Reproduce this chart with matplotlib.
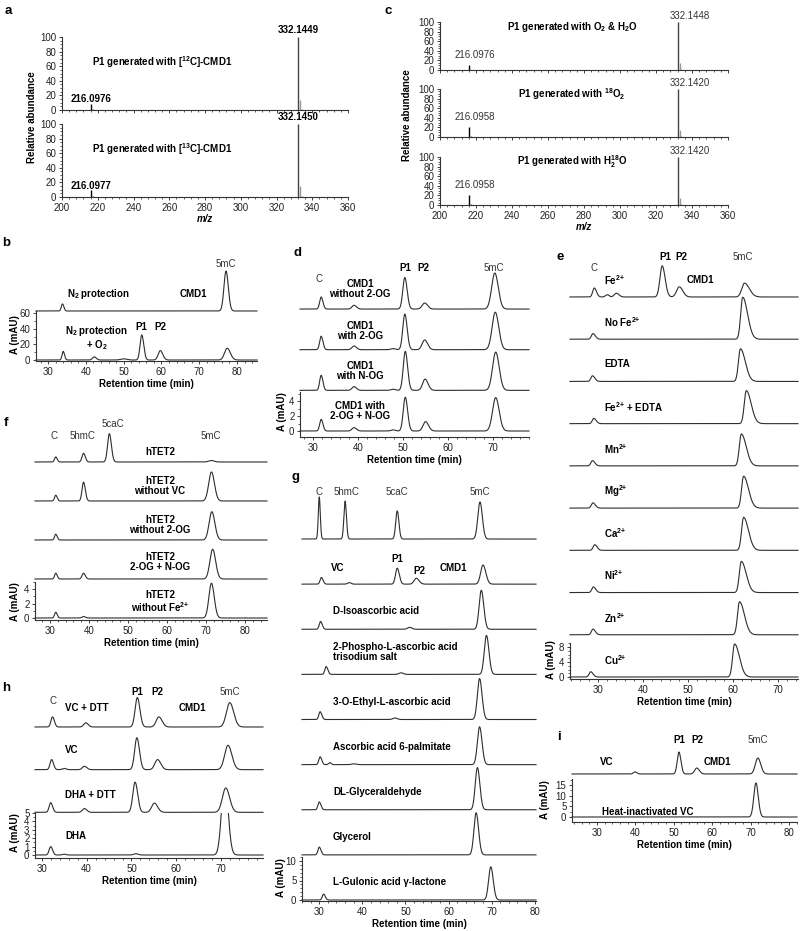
import numpy as np
import matplotlib
matplotlib.use('Agg')
import matplotlib.pyplot as plt
from matplotlib.ticker import MultipleLocator
from matplotlib.patches import Rectangle

plt.rcParams['font.family'] = 'Liberation Sans'
plt.rcParams['mathtext.fontset'] = 'custom'
plt.rcParams['mathtext.rm'] = 'Liberation Sans'
plt.rcParams['mathtext.bf'] = 'Liberation Sans:bold'
plt.rcParams['mathtext.it'] = 'Liberation Sans:italic'

# ---- mass spectra (panels a, c) ----
ms_mz = [216.1, 217.1, 332.1, 333.1, 334.1]
ms_a_12c = [8, 1, 100, 14, 1.5]
ms_a_13c = [9, 1, 100, 15, 1.5]
ms_c_o2h2o = [10, 1, 100, 15, 2]
ms_c_18o2 = [21, 2, 100, 15, 2]
ms_c_h218o = [21, 2, 100, 15, 2]
ms_a_labels = [('216.0976', '332.1449'), ('216.0977', '332.1450')]
ms_c_labels = [('216.0976', '332.1448'), ('216.0958', '332.1420'), ('216.0958', '332.1420')]
ms_a_titles = [r'P1 generated with [$^{\mathbf{12}}$C]-CMD1',
               r'P1 generated with [$^{\mathbf{13}}$C]-CMD1']
ms_c_titles = [r'P1 generated with O$_{\mathbf{2}}$ & H$_{\mathbf{2}}$O',
               r'P1 generated with $^{\mathbf{18}}$O$_{\mathbf{2}}$',
               r'P1 generated with H$_{\mathbf{2}}^{\mathbf{18}}$O']

# ---- chromatograms: peaks as (retention time, height mAU, width, tailing) ----
b_traces = [
    [(33.8, 9, 0.3, 1.2), (77.1, 51, 0.55, 1.1)],
    [(34.0, 11, 0.3, 1.2), (42.2, 4, 0.45, 1.2), (50.0, 1.5, 0.8, 1.0),
     (54.8, 32, 0.45, 1.15), (59.7, 12, 0.55, 1.2), (77.4, 15, 0.7, 1.2)],
]
d_traces = [
    [(31.8, 1.6, 0.33, 1.2), (39.1, 0.5, 0.45, 1.2), (50.4, 4.2, 0.45, 1.15),
     (54.8, 0.8, 0.55, 1.2), (70.4, 4.8, 0.7, 1.1)],
    [(31.8, 1.8, 0.33, 1.2), (39.1, 0.5, 0.45, 1.2), (47.8, 0.15, 0.5, 1.0),
     (50.4, 4.75, 0.45, 1.15), (54.8, 1.3, 0.55, 1.2), (70.5, 5.0, 0.7, 1.1)],
    [(31.8, 2.0, 0.33, 1.2), (39.1, 0.5, 0.45, 1.2), (47.8, 0.15, 0.5, 1.0),
     (50.5, 5.2, 0.45, 1.15), (54.9, 1.5, 0.55, 1.2), (70.6, 5.1, 0.7, 1.1)],
    [(31.8, 1.55, 0.33, 1.2), (39.1, 0.45, 0.45, 1.2), (47.8, 0.15, 0.5, 1.0),
     (50.5, 4.5, 0.45, 1.15), (55.0, 1.25, 0.55, 1.2), (70.6, 4.45, 0.7, 1.1)],
]
d_names = ['CMD1\nwithout 2-OG', 'CMD1\nwith 2-OG', 'CMD1\nwith N-OG', 'CMD1 with\n2-OG + N-OG']

e_traces = [
    [(29.1, 2.4, 0.35, 1.4), (32.0, 0.6, 0.4, 1.0), (34.0, 1.0, 0.45, 1.3),
     (44.2, 8.3, 0.5, 1.3), (48.0, 2.7, 0.6, 1.3), (62.5, 3.7, 0.6, 1.8)],
    [(28.8, 1.5, 0.35, 1.5), (62.1, 11.2, 0.45, 2.4)],
    [(28.7, 1.5, 0.35, 1.5), (61.6, 8.7, 0.45, 2.4)],
    [(29.0, 1.4, 0.35, 1.5), (62.9, 8.8, 0.45, 2.4)],
    [(28.7, 1.4, 0.35, 1.5), (61.8, 8.5, 0.45, 2.4)],
    [(28.8, 1.4, 0.35, 1.5), (62.3, 8.5, 0.45, 2.4)],
    [(29.2, 1.5, 0.35, 1.5), (62.3, 8.8, 0.45, 2.4)],
    [(28.9, 1.5, 0.35, 1.5), (61.8, 8.3, 0.45, 2.4)],
    [(28.8, 1.5, 0.35, 1.5), (61.4, 8.8, 0.45, 2.4)],
    [(28.3, 1.4, 0.35, 1.5), (60.3, 8.8, 0.45, 2.4)],
]
SUP = r'$^{\mathbf{2{+}}}$'
e_names = ['Fe' + SUP, 'No Fe' + SUP, 'EDTA', 'Fe' + SUP + ' + EDTA',
           'Mn' + SUP, 'Mg' + SUP, 'Ca' + SUP, 'Ni' + SUP, 'Zn' + SUP, 'Cu' + SUP]

f_traces = [
    [(31.5, 0.7, 0.3, 1.2), (38.6, 1.2, 0.38, 1.2), (45.2, 3.9, 0.45, 1.15), (71.3, 0.2, 0.7, 1.0)],
    [(31.5, 0.8, 0.3, 1.2), (38.6, 2.6, 0.38, 1.2), (71.3, 4.0, 0.7, 1.1)],
    [(31.5, 0.8, 0.3, 1.2), (71.4, 3.9, 0.7, 1.1)],
    [(31.5, 0.8, 0.3, 1.2), (38.6, 0.8, 0.38, 1.2), (71.6, 4.1, 0.7, 1.1)],
    [(31.5, 0.8, 0.3, 1.2), (38.6, 0.2, 0.38, 1.2), (71.3, 4.8, 0.65, 1.1)],
]
f_names = ['hTET2', 'hTET2\nwithout VC', 'hTET2\nwithout 2-OG', 'hTET2\n2-OG + N-OG',
           'hTET2\nwithout Fe' + SUP]

g_traces = [
    [(30.0, 10.8, 0.22, 1.1), (36.0, 9.7, 0.28, 1.1), (48.1, 7.2, 0.35, 1.1), (67.3, 9.5, 0.5, 1.1)],
    [(30.5, 1.7, 0.3, 1.3), (37.0, 0.4, 0.4, 1.0), (48.1, 4.1, 0.4, 1.2),
     (52.5, 1.5, 0.5, 1.3), (68.0, 4.9, 0.55, 1.2)],
    [(30.3, 2.0, 0.3, 1.3), (51.0, 0.5, 0.5, 1.0), (67.6, 10.0, 0.5, 1.15)],
    [(31.6, 2.0, 0.3, 1.3), (49.0, 0.4, 0.5, 1.0), (68.8, 10.0, 0.5, 1.15)],
    [(30.2, 2.0, 0.3, 1.3), (47.6, 0.4, 0.5, 1.0), (67.2, 10.5, 0.5, 1.15)],
    [(30.2, 2.0, 0.3, 1.3), (32.5, 0.5, 0.3, 1.0), (38.0, 0.2, 0.5, 1.0), (67.2, 9.7, 0.5, 1.15)],
    [(30.0, 2.0, 0.3, 1.3), (66.7, 10.8, 0.5, 1.15)],
    [(30.0, 2.0, 0.3, 1.3), (66.4, 10.8, 0.5, 1.15)],
    [(31.0, 1.5, 0.3, 1.3), (69.8, 8.5, 0.5, 1.15)],
]
g_names = ['', '', 'D-Isoascorbic acid', '2-Phospho-L-ascorbic acid\ntrisodium salt',
           '3-O-Ethyl-L-ascorbic acid', 'Ascorbic acid 6-palmitate', 'DL-Glyceraldehyde',
           'Glycerol', 'L-Gulonic acid γ-lactone']

h_traces = [
    [(32.4, 1.2, 0.35, 1.2), (39.8, 0.5, 0.45, 1.2), (51.3, 3.5, 0.5, 1.15),
     (56.1, 1.2, 0.6, 1.2), (71.9, 2.9, 0.75, 1.15)],
    [(32.2, 1.2, 0.35, 1.2), (35.0, 0.15, 0.4, 1.0), (39.5, 0.4, 0.45, 1.2),
     (51.2, 3.8, 0.5, 1.15), (55.8, 1.2, 0.6, 1.2), (71.5, 2.9, 0.75, 1.15)],
    [(32.0, 1.15, 0.35, 1.2), (39.5, 0.45, 0.45, 1.2), (50.8, 3.6, 0.5, 1.15),
     (55.1, 1.1, 0.6, 1.2), (71.0, 2.9, 0.75, 1.15)],
    [(32.0, 1.0, 0.35, 1.2), (35.0, 0.1, 0.4, 1.0), (51.0, 0.15, 0.5, 1.0), (70.75, 9.0, 0.69, 1.1)],
]
h_names = ['VC + DTT', 'VC', 'DHA + DTT', 'DHA']

i_traces = [
    [(39.9, 1.0, 0.4, 1.2), (51.35, 10.3, 0.45, 1.15), (56.0, 2.8, 0.55, 1.2), (71.9, 7.5, 0.65, 1.15)],
    [(71.4, 16.0, 0.55, 1.1)],
]

W, H = 800, 931
LINE = '#2e2e2e'
fig = plt.figure(figsize=(W / 100, H / 100), dpi=100)


def txt(px, py, s, bold=True, ha='center', size=7, **kw):
    fig.text(px / W, 1 - py / H, s, fontsize=size, fontweight='bold' if bold else 'normal',
             ha=ha, va='center', color='black' if bold else '#333333', **kw)


def signal(x, peaks):
    y = np.zeros_like(x)
    for c, h, w, t in peaks:
        s = np.where(x < c, w, w * t)
        y += h * np.exp(-0.5 * ((x - c) / s) ** 2)
    return y


def style_axes(ax):
    for s in ['top', 'right']:
        ax.spines[s].set_visible(False)
    for s in ['left', 'bottom']:
        ax.spines[s].set_linewidth(0.8)
        ax.spines[s].set_color('#333333')
    ax.tick_params(which='major', length=2.5, width=0.6, labelsize=7, pad=1.5, colors='#222222')
    ax.tick_params(which='minor', length=1.5, width=0.5, colors='#222222')


def ms_axes(box, ab, show_x):
    x0, x1, yt, yb = box
    ax = fig.add_axes([x0 / W, 1 - yb / H, (x1 - x0) / W, (yb - yt) / H])
    cols = ['black', '#555555', '#444444', '#999999', '#999999']
    ax.vlines(ms_mz, 0, ab, colors=cols, lw=1.0, clip_on=False)
    ax.set_xlim(200, 360)
    ax.set_ylim(0, 100)
    style_axes(ax)
    ax.set_yticks(range(0, 101, 20))
    ax.yaxis.set_minor_locator(MultipleLocator(5))
    ax.set_xticks(range(200, 361, 20))
    ax.xaxis.set_minor_locator(MultipleLocator(4))
    if not show_x:
        ax.set_xticklabels([])
    return ax


def chrom(box, xlim, zero_px, ppu, spacing, traces, yticks, ytop, minor_y):
    x0, x1, yt, yb = box
    ax = fig.add_axes([x0 / W, 1 - yb / H, (x1 - x0) / W, (yb - yt) / H])
    ymin = (zero_px - yb) / ppu
    ymax = (zero_px - yt) / ppu
    ax.set_xlim(*xlim)
    ax.set_ylim(ymin, ymax)
    xs = np.linspace(xlim[0], xlim[1], 2500)
    n = len(traces)
    lines = []
    for i, pk in enumerate(traces):
        ln, = ax.plot(xs, signal(xs, pk) + (n - 1 - i) * spacing, color=LINE, lw=0.8, clip_on=False)
        lines.append(ln)
    style_axes(ax)
    ax.spines['left'].set_bounds(ymin, ytop)
    ax.set_yticks(yticks)
    ax.set_yticks(np.arange(0, ytop + 1e-9, minor_y), minor=True)
    ax.xaxis.set_major_locator(MultipleLocator(10))
    ax.xaxis.set_minor_locator(MultipleLocator(2))
    ax.set_xlabel('Retention time (min)', fontsize=7, fontweight='bold', labelpad=1.5)
    return ax, lines


# ---------------- panel a ----------------
txt(8, 11, 'a', size=9.5)
for k, (box, ab) in enumerate([((62, 348, 37, 110), ms_a_12c), ((62, 348, 124, 197), ms_a_13c)]):
    ax = ms_axes(box, ab, k == 1)
    top = box[2]
    txt(298, top - 7, ms_a_labels[k][1])
    txt(91, top + 62, ms_a_labels[k][0])
    txt(162, top + 25, ms_a_titles[k])
ax.set_xlabel('m/z', fontsize=7, fontweight='bold', fontstyle='italic', labelpad=1)
txt(32, 117, 'Relative abundance', rotation=90)

# ---------------- panel c ----------------
txt(388, 11, 'c', size=9.5)
c_boxes = [(440, 728, 22, 70), (440, 728, 89, 137), (440, 728, 157, 205)]
c_data = [ms_c_o2h2o, ms_c_18o2, ms_c_h218o]
for k, (box, ab) in enumerate(zip(c_boxes, c_data)):
    ax = ms_axes(box, ab, k == 2)
    top = box[2]
    txt(690, top - 6, ms_c_labels[k][1], bold=False)
    txt(475, box[3] - 10 - 0.48 * ab[0], ms_c_labels[k][0], bold=False)
    txt(572, top + 5, ms_c_titles[k])
ax.set_xlabel('m/z', fontsize=7, fontweight='bold', fontstyle='italic', labelpad=1)
txt(407, 115, 'Relative abundance', rotation=90)

# ---------------- panel b ----------------
txt(6, 243, 'b', size=9.5)
ax, _ = chrom((36, 257, 262, 361), (26.8, 85.3), 360, 0.783, 62.6, b_traces,
              [0, 20, 40, 60], 62, 10)
txt(15, 335, 'A (mAU)', rotation=90)
txt(226, 264, '5mC', bold=False)
txt(99, 294, r'N$_{\mathbf{2}}$ protection')
txt(193, 294, 'CMD1')
txt(97, 331, r'N$_{\mathbf{2}}$ protection')
txt(97, 345, r'+ O$_{\mathbf{2}}$')
txt(141, 327, 'P1')
txt(160, 327, 'P2')

# ---------------- panel d ----------------
txt(297, 253, 'd', size=9.5)
ax, _ = chrom((300, 529, 265, 437), (27.1, 78.0), 431, 7.5, 5.42, d_traces,
              [0, 2, 4], 5.2, 1)
txt(282, 412, 'A (mAU)', rotation=90)
txt(319, 279, 'C', bold=False)
txt(405, 268, 'P1')
txt(423, 268, 'P2')
txt(494, 268, '5mC', bold=False)
for name, yc in zip(d_names, [289, 331, 371, 411]):
    txt(360, yc, name, linespacing=1.05)

# ---------------- panel e ----------------
txt(560, 257, 'e', size=9.5)
ax, _ = chrom((570, 798, 255, 679), (23.7, 74.4), 677, 3.75, 11.26, e_traces,
              [0, 4, 8], 9.2, 1)
txt(551, 660, 'A (mAU)', rotation=90)
txt(594, 268, 'C', bold=False)
txt(665, 257, 'P1')
txt(681, 257, 'P2')
txt(743, 257, '5mC', bold=False)
txt(700, 280, 'CMD1')
for k, name in enumerate(e_names):
    base = 677 - (len(e_names) - 1 - k) * 11.26 * 3.75
    txt(604, base - 17, name, ha='left')

# ---------------- panel f ----------------
txt(6, 423, 'f', size=9.5)
ax, _ = chrom((35, 267, 425, 620), (26.2, 85.5), 618, 7.25, 5.38, f_traces,
              [0, 2, 4], 5.0, 1)
txt(15, 602, 'A (mAU)', rotation=90)
txt(54, 436, 'C', bold=False)
txt(82, 436, '5hmC', bold=False)
txt(113, 424, '5caC', bold=False)
txt(211, 436, '5mC', bold=False)
for name, yc in zip(f_names, [452, 486, 525, 562, 602]):
    txt(160, yc, name, linespacing=1.0)

# ---------------- panel g ----------------
txt(296, 477, 'g', size=9.5)
ax, _ = chrom((302, 536, 485, 901), (26.0, 80.3), 900, 3.9, 11.57, g_traces,
              [0, 5, 10], 11, 1)
txt(281, 878, 'A (mAU)', rotation=90)
txt(319, 492, 'C', bold=False)
txt(346, 492, '5hmC', bold=False)
txt(397, 492, '5caC', bold=False)
txt(480, 492, '5mC', bold=False)
txt(338, 568, 'VC')
txt(397, 559, 'P1')
txt(419, 571, 'P2')
txt(453, 568, 'CMD1')
for k, name in enumerate(g_names):
    if not name:
        continue
    base = 900 - (len(g_names) - 1 - k) * 11.57 * 3.9
    off = 22 if '\n' in name else 18
    txt(333, base - off, name, ha='left', linespacing=1.0)

# ---------------- panel h ----------------
txt(6, 688, 'h', size=9.5)
ax, lines = chrom((35, 263, 690, 858), (28.5, 79.3), 855, 8.4, 5.08, h_traces,
                  [0, 1, 2, 3, 4, 5], 5.0, 0.5)
clip = Rectangle((28.5, -2), 60, 7.05, transform=ax.transData)
lines[-1].set_clip_on(True)
lines[-1].set_clip_path(clip)
txt(15, 833, 'A (mAU)', rotation=90)
txt(53, 701, 'C', bold=False)
txt(137, 692, 'P1')
txt(157, 692, 'P2')
txt(230, 692, '5mC', bold=False)
txt(192, 708, 'CMD1')
for name, yc in zip(h_names, [708, 750, 795, 836]):
    txt(65, yc, name, ha='left')

# ---------------- panel i ----------------
txt(559, 737, 'i', size=9.5)
ax, _ = chrom((572, 797, 740, 822), (23.5, 82.1), 817, 2.13, 20.2, i_traces,
              [0, 5, 10, 15], 18, 2.5)
txt(545, 800, 'A (mAU)', rotation=90)
txt(679, 740, 'P1')
txt(697, 740, 'P2')
txt(758, 740, '5mC', bold=False)
txt(607, 762, 'VC')
txt(717, 762, 'CMD1')
txt(602, 812, 'Heat-inactivated VC', ha='left')

fig.savefig('out.png', dpi=100)
